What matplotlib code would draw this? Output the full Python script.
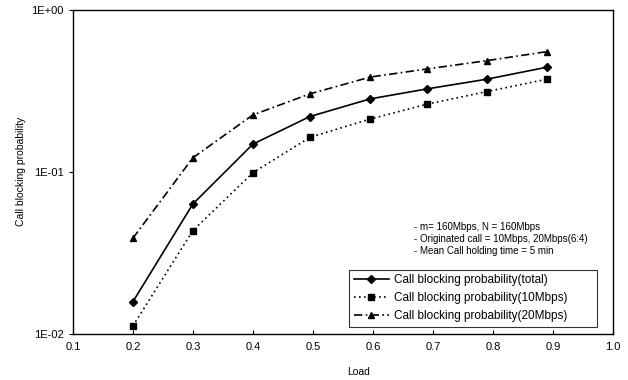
import matplotlib
matplotlib.use("Agg")
import matplotlib.pyplot as plt
from matplotlib.ticker import FixedLocator, NullLocator

plt.rcParams['font.family'] = ['Liberation Sans', 'DejaVu Sans']

load = [0.2, 0.3, 0.4, 0.495, 0.595, 0.69, 0.79, 0.89]
total = [0.0158, 0.0633, 0.148, 0.219, 0.281, 0.324, 0.372, 0.441]
mbps10 = [0.0112, 0.0434, 0.0986, 0.163, 0.211, 0.261, 0.312, 0.372]
mbps20 = [0.0389, 0.122, 0.224, 0.302, 0.383, 0.430, 0.484, 0.550]

xticks = [0.1, 0.2, 0.3, 0.4, 0.5, 0.6, 0.7, 0.8, 0.9, 1.0]
yticks = [1e-2, 1e-1, 1e0]
ytick_labels = ["1E-02", "1E-01", "1E+00"]
labels = ["Call blocking probability(total)",
          "Call blocking probability(10Mbps)",
          "Call blocking probability(20Mbps)"]
notes = ["- m= 160Mbps, N = 160Mbps",
         "- Originated call = 10Mbps, 20Mbps(6:4)",
         "- Mean Call holding time = 5 min"]

fig = plt.figure(figsize=(6.28, 3.8), dpi=100)
ax = fig.add_axes([0.116, 0.121, 0.86, 0.854])

ax.plot(load, total, color='black', linestyle='-', linewidth=1.2,
        marker='D', markersize=4, label=labels[0])
ax.plot(load, mbps10, color='black', linestyle=(0, (1, 2)), linewidth=1.2,
        marker='s', markersize=5, label=labels[1])
ax.plot(load, mbps20, color='black', linestyle=(0, (5, 2, 1, 2)), linewidth=1.2,
        marker='^', markersize=5, label=labels[2])

ax.set_yscale('log')
ax.set_xlim(0.1, 1.0)
ax.set_ylim(1e-2, 1e0)
ax.xaxis.set_major_locator(FixedLocator(xticks))
ax.set_xticklabels([f"{v:.1f}" for v in xticks])
ax.yaxis.set_major_locator(FixedLocator(yticks))
ax.yaxis.set_minor_locator(NullLocator())
ax.set_yticklabels(ytick_labels)
ax.tick_params(axis='x', direction='in', length=3, labelsize=8, pad=6)
ax.tick_params(axis='y', direction='out', length=3, labelsize=8)
for s in ax.spines.values():
    s.set_linewidth(1.0)

ax.set_ylabel("Call blocking probability", fontsize=7.5, labelpad=4)
fig.text(359/628, 1 - 372/380, "Load", fontsize=7.5, ha='center', va='center')

ax.text(0.632, 0.345, "\n".join(notes), transform=ax.transAxes,
        fontsize=7, va='top', ha='left', linespacing=1.25)

leg = ax.legend(loc='lower left', bbox_to_anchor=(0.511, 0.022, 0.46, 0.18),
                mode='expand', fontsize=8.5, frameon=True, fancybox=False,
                edgecolor='black', handlelength=3.0, handletextpad=0.4,
                borderaxespad=0, labelspacing=0.5, borderpad=0.4)
leg.get_frame().set_linewidth(0.8)

fig.savefig("out.png", dpi=100)
